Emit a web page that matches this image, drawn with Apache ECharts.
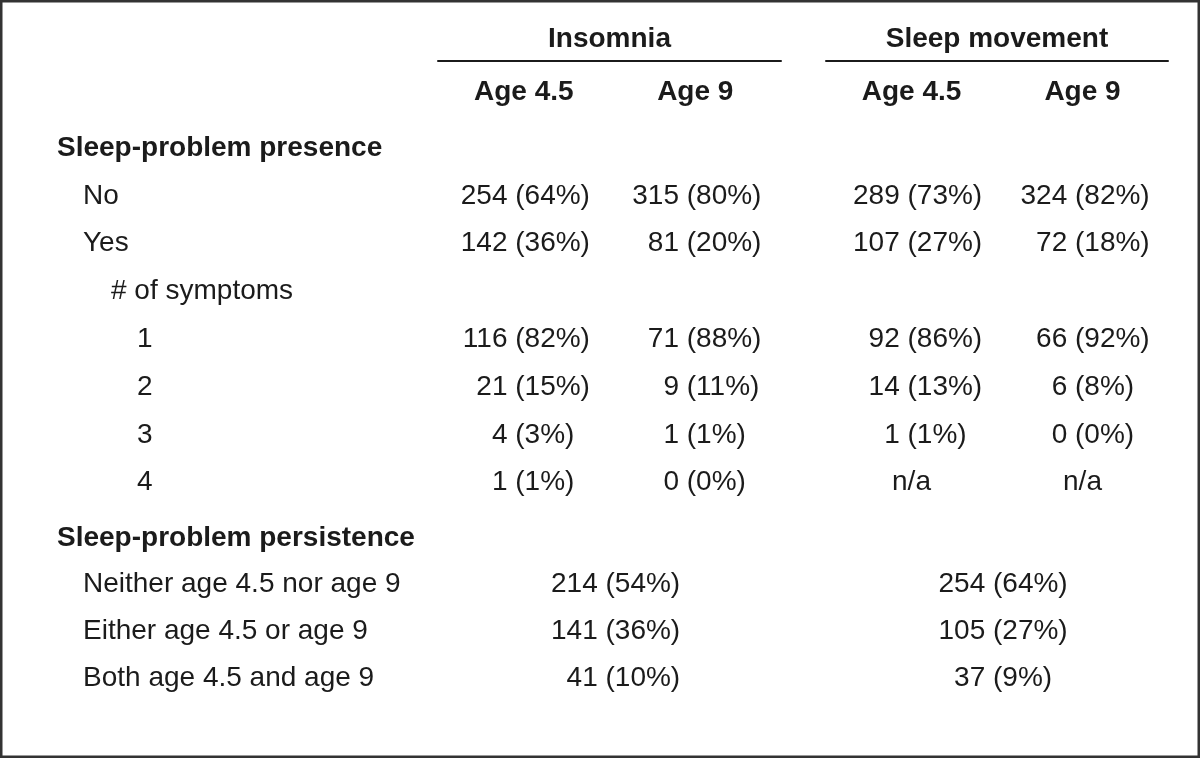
<!DOCTYPE html>
<html>
<head>
<meta charset="utf-8">
<script src="https://cdn.jsdelivr.net/npm/echarts@6/dist/echarts.min.js"></script>
<style>
  html, body { margin: 0; padding: 0; background: #ffffff; }
  #chart { width: 1200px; height: 758px; }
</style>
</head>
<body>
<div id="chart"></div>
<script>
// ---------------- data ----------------
const groupNames = ['Insomnia', 'Sleep movement'];
const ageLabels = ['Age 4.5', 'Age 9'];

const presenceRows = ['Sleep-problem presence', 'No', 'Yes', '# of symptoms', '1', '2', '3', '4'];
const presenceLevels = [0, 1, 1, 2, 3, 3, 3, 3];

const insomnia45Counts = [null, 254, 142, null, 116, 21, 4, 1];
const insomnia45Pct    = [null, 64, 36, null, 82, 15, 3, 1];
const insomnia9Counts  = [null, 315, 81, null, 71, 9, 1, 0];
const insomnia9Pct     = [null, 80, 20, null, 88, 11, 1, 0];
const movement45Counts = [null, 289, 107, null, 92, 14, 1, 'n/a'];
const movement45Pct    = [null, 73, 27, null, 86, 13, 1, null];
const movement9Counts  = [null, 324, 72, null, 66, 6, 0, 'n/a'];
const movement9Pct     = [null, 82, 18, null, 92, 8, 0, null];

const persistenceRows = ['Sleep-problem persistence', 'Neither age 4.5 nor age 9', 'Either age 4.5 or age 9', 'Both age 4.5 and age 9'];
const persistenceLevels = [0, 1, 1, 1];
const persistenceCol = ['Both ages'];
const insomniaPersistCounts = [null, 214, 141, 41];
const insomniaPersistPct    = [null, 54, 36, 10];
const movementPersistCounts = [null, 254, 105, 37];
const movementPersistPct    = [null, 64, 27, 9];

// ---------------- style / layout ----------------
const FONT = "'Liberation Sans', Arial, sans-serif";
const INK = '#1b1b1b';
const FS = 28;
const SPACE = FS * 0.278;
const indent = [0, 26, 54, 80];

const richLevels = {
  l0: { fontFamily: FONT, fontSize: FS, fontWeight: 'bold', color: INK, padding: [0, 0, 0, indent[0]] },
  l1: { fontFamily: FONT, fontSize: FS, color: INK, padding: [0, 0, 0, indent[1]] },
  l2: { fontFamily: FONT, fontSize: FS, color: INK, padding: [0, 0, 0, indent[2]] },
  l3: { fontFamily: FONT, fontSize: FS, color: INK, padding: [0, 0, 0, indent[3]] }
};

const grids = [
  { left: 438, width: 343, top: 124.1, height: 382.4 },
  { left: 826, width: 342, top: 124.1, height: 382.4 },
  { left: 438, width: 343, top: 514.6, height: 186.8 },
  { left: 826, width: 342, top: 514.6, height: 186.8 }
];

function headerAxis(gridIndex, name) {
  return {
    gridIndex: gridIndex, type: 'category', data: ageLabels, position: 'top',
    offset: 124.1 - 61,
    axisLine: { show: true, lineStyle: { color: INK, width: 2 } },
    axisTick: { show: false }, splitLine: { show: false },
    axisLabel: { show: true, inside: true, margin: 31, interval: 0, verticalAlign: 'middle',
      fontFamily: FONT, fontSize: FS, fontWeight: 'bold', color: INK },
    name: name, nameLocation: 'middle', nameGap: 22,
    nameTextStyle: { fontFamily: FONT, fontSize: FS, fontWeight: 'bold', color: INK, verticalAlign: 'middle' }
  };
}
function hiddenX(gridIndex) {
  return { gridIndex: gridIndex, type: 'category', data: persistenceCol, show: false };
}
function rowAxis(gridIndex, rows, levels, showLabels) {
  return {
    gridIndex: gridIndex, type: 'category', data: rows, inverse: true, show: showLabels,
    axisLine: { show: false }, axisTick: { show: false }, splitLine: { show: false },
    axisLabel: { show: showLabels, interval: 0, align: 'left', margin: 381,
      formatter: function (v, i) { return '{l' + levels[i] + '|' + v + '}'; },
      rich: richLevels }
  };
}

function cellSeries(axisIdx, xCat, rows, counts, pcts, parenOff) {
  const countData = [], pctData = [];
  rows.forEach(function (r, i) {
    if (counts[i] === null || counts[i] === undefined) return;
    if (counts[i] === 'n/a') {
      countData.push({ value: [xCat, r, counts[i]], label: { align: 'center', offset: [0, 0] } });
    } else {
      countData.push({ value: [xCat, r, counts[i]] });
    }
    if (pcts[i] !== null && pcts[i] !== undefined) pctData.push({ value: [xCat, r, pcts[i]] });
  });
  const base = {
    type: 'scatter', xAxisIndex: axisIdx, yAxisIndex: axisIdx, symbolSize: 0,
    silent: true, itemStyle: { color: 'transparent', opacity: 1 }
  };
  const lbl = { show: true, position: 'inside', fontFamily: FONT, fontSize: FS, color: INK,
    opacity: 1, verticalAlign: 'middle' };
  return [
    Object.assign({}, base, { data: countData,
      label: Object.assign({}, lbl, { align: 'right', offset: [parenOff - SPACE, 0],
        formatter: function (p) { return String(p.value[2]); } }) }),
    Object.assign({}, base, { data: pctData,
      label: Object.assign({}, lbl, { align: 'left', offset: [parenOff, 0],
        formatter: function (p) { return '(' + p.value[2] + '%)'; } }) })
  ];
}

const series = [].concat(
  cellSeries(0, ageLabels[0], presenceRows, insomnia45Counts, insomnia45Pct, -8.5),
  cellSeries(0, ageLabels[1], presenceRows, insomnia9Counts, insomnia9Pct, -8.5),
  cellSeries(1, ageLabels[0], presenceRows, movement45Counts, movement45Pct, -4),
  cellSeries(1, ageLabels[1], presenceRows, movement9Counts, movement9Pct, -7.5),
  cellSeries(2, persistenceCol[0], persistenceRows, insomniaPersistCounts, insomniaPersistPct, -4),
  cellSeries(3, persistenceCol[0], persistenceRows, movementPersistCounts, movementPersistPct, -4)
);

const chart = echarts.init(document.getElementById('chart'), null, { renderer: 'canvas' });
chart.setOption({
  animation: false,
  backgroundColor: '#ffffff',
  grid: grids,
  xAxis: [headerAxis(0, groupNames[0]), headerAxis(1, groupNames[1]), hiddenX(2), hiddenX(3)],
  yAxis: [
    rowAxis(0, presenceRows, presenceLevels, true),
    rowAxis(1, presenceRows, presenceLevels, false),
    rowAxis(2, persistenceRows, persistenceLevels, true),
    rowAxis(3, persistenceRows, persistenceLevels, false)
  ],
  series: series,
  graphic: [{
    type: 'rect', silent: true, z: 100,
    shape: { x: 1.25, y: 1.25, width: 1197.5, height: 755.5 },
    style: { fill: 'none', stroke: '#333333', lineWidth: 2.5 }
  }]
});
</script>
</body>
</html>
